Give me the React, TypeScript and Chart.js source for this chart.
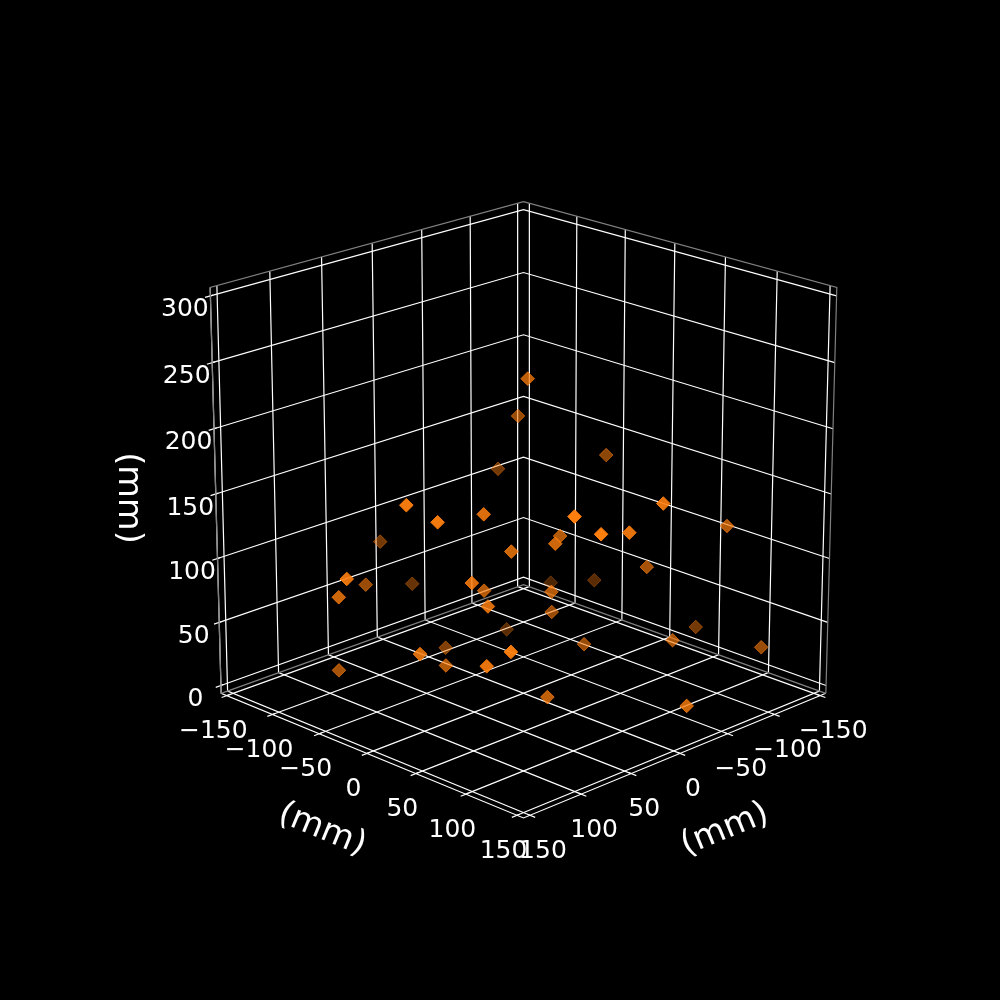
import React, { useEffect, useRef } from "react";
import { Chart, registerables } from "chart.js";

Chart.register(...registerables);

const xTicks = [-150, -100, -50, 0, 50, 100, 150];
const yTicks = [-150, -100, -50, 0, 50, 100, 150];
const zTicks = [0, 50, 100, 150, 200, 250, 300];

const xs = [-2.2,-20.9,-31.2,119.4,106.9,63.2,42.8,45.9,151.8,86.5,24.2,140.1,80.9,46.7,76.9,48.6,-1.2,22.6,-68,12.9,-3.7,-26.6,37.5,118.8,79,92.8,97.4,124.6,43.1,-69.2,-17.8,38.6,4,-87.2,-49.8,-81.3,-105.4,-50.1,-104.3,-14.5,-15.2];
const ys = [2,-26.5,-57.6,4,22.3,23.6,-105.6,33.7,-23.2,-74.5,-91.6,-44.7,29.5,6.9,41.5,98.6,35.8,54.4,-39.4,41.1,25.1,-44.2,-42.7,15.8,0.6,80.4,61,-62.8,67.1,15.6,120.6,114.6,108.8,118.4,75.4,-7.3,73,101.3,138.3,47.3,148];
const zs = [237.9,198.2,146.9,173.4,162.1,157,96.4,126.8,119.3,82.9,61.8,96.2,111.2,89.7,95.6,171.1,126.7,132.1,51.7,88.9,64.2,24.4,28.5,63.8,39.1,76.6,61.4,30.1,23.5,166.5,169.3,159.5,150,133.5,100.4,58.8,37.2,50.5,40.1,42.2,23.4];

const UNIT = "(mm)";
const ELEV = (20 * Math.PI) / 180;
const AZIM = (45 * Math.PI) / 180;
const DIST = 10;
const CX = 523.5;
const CY = 494;
const KX = 4178;
const KY = 4145;
const PAD = 300 / 48;
const XLO = -150 - PAD;
const XHI = 150 + PAD;
const ZLO = 0 - PAD;
const ZHI = 300 + PAD;

const w = [Math.cos(ELEV) * Math.cos(AZIM), Math.cos(ELEV) * Math.sin(AZIM), Math.sin(ELEV)];
const u = [-Math.sin(AZIM), Math.cos(AZIM), 0];
const v = [-Math.sin(ELEV) * Math.cos(AZIM), -Math.sin(ELEV) * Math.sin(AZIM), Math.cos(ELEV)];

function view(x: number, y: number, z: number) {
  const p = [x / 300, y / 300, (z - 150) / 300];
  const dot = (a: number[]) => a[0] * p[0] + a[1] * p[1] + a[2] * p[2];
  const depth = dot(w);
  return { x: dot(u) / (DIST - depth), y: dot(v) / (DIST - depth), depth };
}
const P = (x: number, y: number, z: number) => {
  const r = view(x, y, z);
  return { x: r.x, y: r.y };
};

type Pt = { x: number; y: number };
function lineSet(data: Pt[], color: string, width: number) {
  return {
    type: "scatter" as const,
    data,
    showLine: true,
    borderColor: color,
    borderWidth: width,
    pointRadius: 0,
    pointHoverRadius: 0,
    tension: 0,
    fill: false,
  };
}

const GRID = "#ffffff";
const EDGE = "#808080";
const LW = 1.2;

function buildLines() {
  const out: any[] = [];
  // pane edges
  out.push(lineSet([P(XHI, XLO, ZLO), P(XHI, XLO, ZHI), P(XLO, XLO, ZHI), P(XLO, XHI, ZHI), P(XLO, XHI, ZLO)], EDGE, LW));
  out.push(lineSet([P(XHI, XLO, ZLO), P(XLO, XLO, ZLO), P(XLO, XHI, ZLO)], EDGE, LW));
  // grid
  for (const t of xTicks) out.push(lineSet([P(t, XHI, ZLO), P(t, XLO, ZLO), P(t, XLO, ZHI)], GRID, LW));
  for (const t of yTicks) out.push(lineSet([P(XHI, t, ZLO), P(XLO, t, ZLO), P(XLO, t, ZHI)], GRID, LW));
  for (const t of zTicks) out.push(lineSet([P(XHI, XLO, t), P(XLO, XLO, t), P(XLO, XHI, t)], GRID, LW));
  // axis lines
  out.push(lineSet([P(XLO, XHI, ZLO), P(XHI, XHI, ZLO), P(XHI, XLO, ZLO), P(XHI, XLO, ZHI)], GRID, LW));
  // ticks
  for (const t of xTicks) out.push(lineSet([P(t, XHI - 2.5, ZLO), P(t, XHI + 5, ZLO)], GRID, LW));
  for (const t of yTicks) out.push(lineSet([P(XHI - 2.5, t, ZLO), P(XHI + 5, t, ZLO)], GRID, LW));
  for (const t of zTicks) out.push(lineSet([P(XHI - 2.5, XLO, t), P(XHI + 5, XLO, t)], GRID, LW));
  return out;
}

function buildPoints() {
  const pts = xs.map((x, i) => view(x, ys[i], zs[i]));
  const depths = pts.map((p) => p.depth);
  const lo = Math.min(...depths);
  const hi = Math.max(...depths);
  const sorted = pts
    .map((p) => ({ ...p, a: 1 - (0.7 * (hi - p.depth)) / (hi - lo) }))
    .sort((a, b) => a.depth - b.depth);
  return {
    type: "scatter" as const,
    data: sorted.map((p) => ({ x: p.x, y: p.y })),
    pointStyle: "rectRot",
    pointRadius: 6.8,
    pointHoverRadius: 6.8,
    pointBorderWidth: 1,
    backgroundColor: sorted.map((p) => `rgba(255,127,14,${p.a.toFixed(3)})`),
    borderColor: sorted.map((p) => `rgba(255,127,14,${p.a.toFixed(3)})`),
    showLine: false,
  };
}

const fmt = (t: number) => (t < 0 ? "\u2212" + Math.abs(t) : String(t));

const textPlugin = {
  id: "axisText",
  afterDatasetsDraw(chart: any) {
    const { ctx, scales } = chart;
    const place = (p: Pt) => [scales.x.getPixelForValue(p.x), scales.y.getPixelForValue(p.y)];
    const put = (s: string, x: number, y: number, size: number, rot = 0) => {
      ctx.save();
      ctx.translate(x, y);
      ctx.rotate((rot * Math.PI) / 180);
      ctx.font = `${size}px "DejaVu Sans"`;
      ctx.fillStyle = "#ffffff";
      ctx.textAlign = "center";
      ctx.textBaseline = "middle";
      ctx.fillText(s, 0, 0);
      ctx.restore();
    };
    for (const t of xTicks) {
      const [a, b] = place(P(t, XHI, ZLO));
      put(fmt(t), a + 13, b + 36, 25);
    }
    for (const t of yTicks) {
      const [a, b] = place(P(XHI, t, ZLO));
      put(fmt(t), a - 13.5, b + 36, 25);
    }
    for (const t of zTicks) {
      const [a, b] = place(P(XHI, XLO, t));
      put(fmt(t), a - 25.5, b + 14, 25);
    }
    const [xa, xb] = place(P(0, XHI, ZLO));
    put(UNIT, xa + 45, xb + 76.5, 33.5, -22.3);
    const [ya, yb] = place(P(XHI, 0, ZLO));
    put(UNIT, ya - 45, yb + 76.5, 33.5, 22.3);
    const [za, zb] = place(P(XHI, XLO, 150));
    put(UNIT, za - 88, zb + 4, 33.5, 90);
  },
};

export default function App() {
  const ref = useRef<HTMLCanvasElement | null>(null);
  useEffect(() => {
    document.body.style.margin = "0";
    document.body.style.background = "#000";
    const chart = new Chart(ref.current as HTMLCanvasElement, {
      type: "scatter",
      data: { datasets: [buildPoints(), ...buildLines()] as any },
      options: {
        animation: false,
        responsive: false,
        devicePixelRatio: 1,
        layout: { padding: 0, autoPadding: false },
        plugins: { legend: { display: false }, tooltip: { enabled: false } },
        scales: {
          x: { type: "linear", display: false, bounds: "data", min: -CX / KX, max: (1000 - CX) / KX },
          y: { type: "linear", display: false, bounds: "data", min: (CY - 1000) / KY, max: CY / KY },
        },
      } as any,
      plugins: [textPlugin],
    });
    return () => chart.destroy();
  }, []);
  return (
    <div style={{ width: 1000, height: 1000, background: "#000" }}>
      <canvas ref={ref} width={1000} height={1000} style={{ display: "block" }} />
    </div>
  );
}
